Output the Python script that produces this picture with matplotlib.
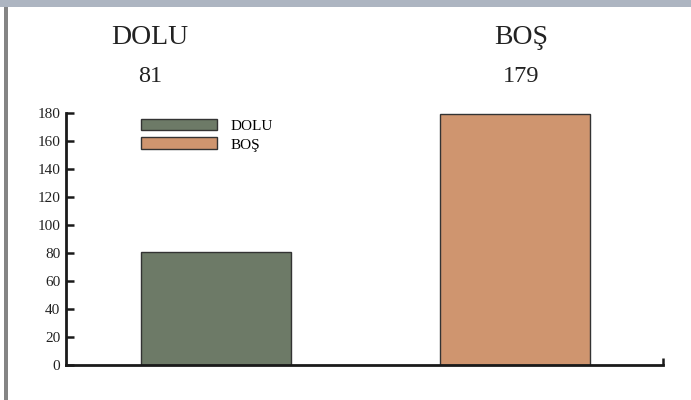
import matplotlib
matplotlib.use("Agg")
import matplotlib.pyplot as plt
from matplotlib.patches import Rectangle

categories = ["DOLU", "BOŞ"]
values = [81, 179]
colors = ["#6d7a67", "#cf956f"]
yticks = [0, 20, 40, 60, 80, 100, 120, 140, 160, 180]

plt.rcParams['font.family'] = ['Liberation Serif', 'DejaVu Serif']

W, H = 691, 400
fig = plt.figure(figsize=(W / 100, H / 100), dpi=100)
fig.patch.set_facecolor("white")

# decorative frame: top band and left rule
fig.add_artist(Rectangle((0, 1 - 7 / H), 1, 7 / H, transform=fig.transFigure,
                         facecolor="#adb5c1", edgecolor="none"))
fig.add_artist(Rectangle((4 / W, 0), 3.5 / W, 1 - 7 / H, transform=fig.transFigure,
                         facecolor="#858585", edgecolor="none"))

ax = fig.add_axes([66 / W, 35 / H, (663 - 66) / W, (365 - 113) / H])
x = list(range(len(categories)))
bars = ax.bar(x, values, width=0.502, color=colors, edgecolor="#333333",
              linewidth=1.0, zorder=2)

ax.set_xlim(-0.502, 1.495)
ax.set_ylim(0, 180)
ax.set_yticks(yticks)
ax.set_yticklabels([str(t) for t in yticks], fontsize=11, color="#222222")
ax.set_xticks([1.495])
ax.set_xticklabels([""])
ax.tick_params(axis="y", direction="in", length=6, width=1.8, pad=4, color="#1a1a1a")
ax.tick_params(axis="x", direction="in", length=5, width=1.8, color="#1a1a1a")
for s in ["top", "right"]:
    ax.spines[s].set_visible(False)
for s in ["left", "bottom"]:
    ax.spines[s].set_linewidth(2.0)
    ax.spines[s].set_color("#1a1a1a")

leg = ax.legend(handles=list(bars), labels=categories, loc="upper left",
                bbox_to_anchor=((140 - 66) / (663 - 66) - 0.017, 1.02),
                frameon=False, fontsize=11, handlelength=5.0, handleheight=0.8,
                labelspacing=0.3, handletextpad=0.9, borderpad=0.2)

# category names and values above the chart
label_x = [150, 521]
for cx, name, v in zip(label_x, categories, values):
    fig.text(cx / W, 1 - 38 / H, name, ha="center", va="center", fontsize=20,
             color="#222222")
    fig.text(cx / W, 1 - 76 / H, str(v), ha="center", va="center", fontsize=17.5,
             color="#222222")

fig.savefig("out.png", dpi=100)
